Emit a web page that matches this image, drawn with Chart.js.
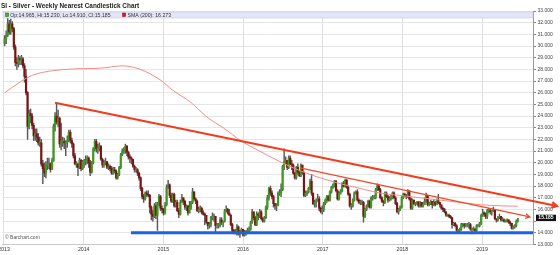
<!DOCTYPE html>
<html><head><meta charset="utf-8">
<script src="https://cdn.jsdelivr.net/npm/chart.js@4.4.1/dist/chart.umd.min.js"></script>
<style>html,body{margin:0;padding:0;background:#fff;overflow:hidden}canvas{display:block}</style>
</head><body>
<canvas id="c" width="560" height="255"></canvas>
<script>
// ---------- DATA (weekly, first week ending 2013-01-04) ----------
const firstWeek = [2013, 0, 4];
const opens = [
30.2,30.6,30.9,31.9,31.2,31.9,31.5,29.9,28.6,28.5,28.9,28.8,28.9,28.3,27.4,26.0,23.1,24.2,24.0,23.2,22.3,22.5,22.2,21.7,21.7,19.9,19.5,19.1,19.8,19.9,19.9,19.4,20.2,23.1,24.0,23.5,23.8,21.6,21.8,21.8,21.7,21.7,21.9,22.6,21.9,21.6,20.6,19.9,19.9,19.6,20.2,19.5,
20.1,20.1,20.2,20.4,20.0,19.2,20.0,21.2,21.8,21.2,21.2,21.4,20.3,19.8,20.0,20.1,19.6,19.7,19.5,19.1,19.4,19.3,18.7,19.0,19.6,20.7,21.0,21.1,21.4,20.9,20.5,20.4,20.3,19.7,19.4,19.4,19.1,18.7,17.8,17.1,16.9,17.4,17.3,17.2,16.2,15.6,15.4,16.3,15.5,16.4,17.1,16.1,
16.0,15.7,16.4,17.9,18.1,17.2,16.7,17.3,16.3,16.6,15.9,15.6,16.6,17.0,16.7,16.2,16.3,15.7,16.2,16.6,17.5,16.9,16.7,15.9,16.0,16.1,15.7,15.6,15.5,14.9,14.6,14.7,15.3,15.4,15.4,14.6,14.6,14.6,15.1,14.9,15.0,15.9,16.0,15.7,15.5,14.7,14.2,14.1,14.1,14.5,13.9,14.1,
14.3,13.8,13.9,14.0,14.2,14.3,14.9,15.8,15.3,14.7,15.6,15.5,15.8,15.2,15.0,15.3,16.2,17.0,17.8,17.4,17.1,16.5,16.3,16.4,17.4,17.4,17.7,19.7,20.1,20.2,19.6,20.4,19.9,19.8,19.1,18.7,19.6,19.2,18.9,19.8,19.2,17.2,17.4,17.5,17.8,18.4,17.4,16.5,16.6,16.7,16.9,16.1,15.8,
16.0,16.5,16.8,17.1,16.8,17.5,17.9,18.0,18.4,17.6,16.9,17.4,17.6,18.2,18.0,18.5,17.9,17.3,16.3,16.3,16.8,17.4,17.5,16.8,16.6,16.6,16.6,15.4,16.0,16.3,16.7,16.2,17.0,17.0,17.0,17.7,18.0,17.7,17.0,16.7,16.6,17.4,17.1,16.8,16.9,17.0,17.4,17.0,16.5,15.8,16.0,16.2,
17.0,17.3,17.2,17.1,17.6,16.9,16.1,16.8,16.5,16.5,16.6,16.3,16.6,16.3,16.4,16.7,17.2,16.4,16.5,16.7,16.4,16.6,16.4,16.8,16.6,16.4,16.1,16.0,15.8,15.5,15.5,15.4,15.3,14.7,14.8,14.6,14.2,14.2,14.3,14.7,14.7,14.6,14.6,14.7,14.7,14.3,14.3,14.3,14.2,14.6,14.6,14.8,
15.5,15.7,15.6,15.4,15.9,15.9,15.8,15.8,16.0,15.2,15.1,15.3,15.4,15.1,15.1,15.0,15.0,15.1,14.9,14.8,14.4,14.5,14.6,14.965];
const highs = [
30.9,31.3,32.4,32.2,32.3,32.1,31.6,30.1,29.0,29.2,29.1,29.2,29.0,28.5,28.0,26.1,24.5,24.6,24.2,23.4,22.9,22.9,22.5,22.2,22.0,20.2,20.0,20.1,20.4,20.4,20.0,20.4,23.3,24.3,25.1,24.5,23.9,23.4,22.2,22.1,21.9,22.3,22.8,22.8,22.1,21.7,20.8,20.1,19.9,20.4,20.3,20.2,
20.3,20.6,20.6,20.5,20.2,20.1,21.3,22.0,22.0,21.6,21.7,21.5,20.4,20.2,20.4,20.1,19.9,19.8,19.7,19.6,19.6,19.4,19.1,19.7,20.8,21.2,21.3,21.6,21.5,21.0,20.7,20.5,20.3,19.8,19.6,19.5,19.2,18.8,17.9,17.3,17.5,17.6,17.6,17.3,16.3,15.9,16.5,16.6,16.6,17.3,17.2,16.3,
16.1,16.6,18.1,18.5,18.2,17.4,17.4,17.4,16.8,16.8,16.1,16.8,17.3,17.0,16.8,16.4,16.3,16.7,16.7,17.8,17.5,17.0,16.8,16.2,16.3,16.2,15.9,15.7,15.5,14.9,14.9,15.4,15.7,15.6,15.4,14.8,14.8,15.3,15.3,15.0,16.0,16.3,16.1,16.0,15.6,14.8,14.3,14.3,14.7,14.6,14.2,14.4,
14.3,14.2,14.2,14.4,14.5,15.0,16.0,15.8,15.4,15.8,15.7,16.0,15.9,15.3,15.4,16.3,17.2,17.9,18.0,17.6,17.2,16.5,16.5,17.5,17.7,18.2,19.8,21.2,20.5,20.2,20.6,20.6,20.2,19.9,19.2,19.7,19.9,19.3,19.9,19.8,19.2,17.6,17.6,17.9,18.6,19.0,17.4,16.8,16.9,17.3,17.1,16.2,16.3,
16.6,16.9,17.2,17.2,17.6,18.0,18.2,18.5,18.5,17.7,17.5,17.7,18.3,18.4,18.6,18.6,18.0,17.4,16.5,16.9,17.5,17.6,17.7,16.9,16.8,16.8,16.7,16.1,16.4,16.8,16.8,17.1,17.2,17.2,17.8,18.2,18.1,17.8,17.1,16.8,17.5,17.5,17.2,17.1,17.2,17.5,17.5,17.1,16.6,16.1,16.3,17.1,
17.4,17.4,17.3,17.7,17.6,17.0,16.9,16.8,16.6,16.7,16.7,16.7,16.6,16.6,17.0,17.4,17.2,16.6,16.8,16.7,16.8,16.7,16.9,17.3,16.6,16.4,16.2,16.1,15.8,15.6,15.6,15.5,15.3,14.9,14.9,14.7,14.3,14.4,14.8,14.8,14.8,14.8,14.8,14.9,14.8,14.4,14.5,14.4,14.7,14.7,14.9,15.6,
16.0,15.8,15.7,16.0,16.1,16.0,15.9,16.2,16.0,15.2,15.4,15.6,15.4,15.3,15.2,15.1,15.2,15.1,15.0,14.8,14.6,14.7,15.1,15.23];
const lows = [
30.0,30.2,30.8,31.0,31.0,31.2,29.7,28.3,28.0,28.2,28.4,28.4,28.1,26.9,25.8,22.0,22.9,23.4,22.9,21.9,21.9,21.8,21.5,21.4,19.7,18.2,18.8,18.7,19.4,19.5,19.2,19.4,20.1,22.7,23.3,23.1,21.3,21.1,21.4,21.2,20.6,21.3,21.8,21.7,21.3,20.4,19.8,19.6,18.9,19.5,19.3,19.4,
19.6,19.8,19.9,19.6,18.9,19.1,19.9,21.0,20.9,20.8,21.0,20.2,19.6,19.6,19.8,19.5,19.4,19.3,19.0,19.0,19.1,18.6,18.6,18.9,19.5,20.6,20.8,20.8,20.6,20.3,20.0,19.9,19.6,19.2,19.2,18.9,18.5,17.6,16.9,16.6,16.8,17.1,17.1,15.7,15.1,15.0,15.3,15.2,14.2,16.3,15.9,15.7,
15.5,15.6,16.3,17.8,17.0,16.6,16.6,16.2,16.2,15.8,15.3,15.5,16.6,16.4,16.0,15.9,15.5,15.7,16.0,16.5,16.8,16.5,15.8,15.7,15.8,15.6,15.5,14.7,14.8,14.3,14.4,14.5,15.1,15.0,14.0,14.4,14.4,14.5,14.7,14.5,14.9,15.8,15.6,15.5,14.6,14.0,13.9,13.9,13.8,13.8,13.6,14.0,
13.7,13.7,13.8,13.9,14.0,14.2,14.8,15.1,14.6,14.6,15.1,15.3,15.1,14.9,14.9,15.2,16.0,16.8,17.2,16.9,16.2,16.0,15.9,16.3,17.2,17.1,17.6,19.4,19.9,19.4,19.5,19.8,19.4,19.0,18.6,18.6,19.0,18.8,18.8,19.0,17.1,17.1,17.2,17.4,17.7,17.2,16.4,16.2,16.2,16.7,15.9,15.7,15.6,
15.8,16.4,16.6,16.7,16.7,17.4,17.8,17.9,17.5,16.8,16.8,17.3,17.5,17.9,17.9,17.8,17.2,16.2,16.0,16.2,16.7,17.3,16.7,16.5,16.4,16.4,14.9,15.3,15.9,16.2,16.1,16.1,16.8,16.9,16.9,17.6,17.6,16.9,16.6,16.3,16.5,17.0,16.6,16.7,16.8,16.9,16.9,16.4,15.7,15.6,15.9,16.1,
16.9,17.1,16.9,17.0,16.8,16.0,16.0,16.4,16.3,16.4,16.2,16.2,16.2,16.2,16.4,16.6,16.3,16.3,16.4,16.1,16.3,16.3,16.4,16.5,16.2,16.0,15.8,15.7,15.4,15.4,15.3,15.2,14.4,14.6,14.5,14.1,14.0,14.1,14.2,14.5,14.4,14.5,14.5,14.4,14.2,13.9,14.2,14.1,14.1,14.5,14.5,14.7,
15.4,15.4,15.2,15.2,15.7,15.6,15.5,15.8,15.1,14.9,15.0,15.2,15.0,15.0,14.9,14.9,14.9,14.8,14.6,14.3,14.3,14.4,14.5,14.91];
const closes = [
30.6,30.9,31.9,31.2,31.9,31.5,29.9,28.6,28.5,28.9,28.8,28.9,28.3,27.4,26.0,23.1,24.2,24.0,23.2,22.3,22.5,22.2,21.7,21.7,19.9,19.5,19.1,19.8,19.9,19.9,19.4,20.2,23.1,24.0,23.5,23.8,21.6,21.8,21.8,21.7,21.7,21.9,22.6,21.9,21.6,20.6,19.9,19.9,19.6,20.2,19.5,20.1,
20.1,20.2,20.4,20.0,19.2,20.0,21.2,21.8,21.2,21.2,21.4,20.3,19.8,20.0,20.1,19.6,19.7,19.5,19.1,19.4,19.3,18.7,19.0,19.6,20.7,21.0,21.1,21.4,20.9,20.5,20.4,20.3,19.7,19.4,19.4,19.1,18.7,17.8,17.1,16.9,17.4,17.3,17.2,16.2,15.6,15.4,16.3,15.5,16.4,17.1,16.1,16.0,
15.7,16.4,17.9,18.1,17.2,16.7,17.3,16.3,16.6,15.9,15.6,16.6,17.0,16.7,16.2,16.3,15.7,16.2,16.6,17.5,16.9,16.7,15.9,16.0,16.1,15.7,15.6,15.5,14.9,14.6,14.7,15.3,15.4,15.4,14.6,14.6,14.6,15.1,14.9,15.0,15.9,16.0,15.7,15.5,14.7,14.2,14.1,14.1,14.5,13.9,14.1,14.3,
13.8,13.9,14.0,14.2,14.3,14.9,15.8,15.3,14.7,15.6,15.5,15.8,15.2,15.0,15.3,16.2,17.0,17.8,17.4,17.1,16.5,16.3,16.4,17.4,17.4,17.7,19.7,20.1,20.2,19.6,20.4,19.9,19.8,19.1,18.7,19.6,19.2,18.9,19.8,19.2,17.2,17.4,17.5,17.8,18.4,17.4,16.5,16.6,16.7,16.9,16.1,15.8,16.0,
16.5,16.8,17.1,16.8,17.5,17.9,18.0,18.4,17.6,16.9,17.4,17.6,18.2,18.0,18.5,17.9,17.3,16.3,16.3,16.8,17.4,17.5,16.8,16.6,16.6,16.6,15.4,16.0,16.3,16.7,16.2,17.0,17.0,17.0,17.7,18.0,17.7,17.0,16.7,16.6,17.4,17.1,16.8,16.9,17.0,17.4,17.0,16.5,15.8,16.0,16.2,17.0,
17.3,17.2,17.1,17.6,16.9,16.1,16.8,16.5,16.5,16.6,16.3,16.6,16.3,16.4,16.7,17.2,16.4,16.5,16.7,16.4,16.6,16.4,16.8,16.6,16.4,16.1,16.0,15.8,15.5,15.5,15.4,15.3,14.7,14.8,14.6,14.2,14.2,14.3,14.7,14.7,14.6,14.6,14.7,14.7,14.3,14.3,14.3,14.2,14.6,14.6,14.8,15.5,
15.7,15.6,15.4,15.9,15.9,15.8,15.8,16.0,15.2,15.1,15.3,15.4,15.1,15.1,15.0,15.0,15.1,14.9,14.8,14.4,14.5,14.6,14.97,15.185];

// SMA(200) (decimal year, price)
const smaDates  = [2013.01,2013.20,2013.36,2013.79,2014.21,2014.49,2014.71,2014.96,2015.12,2015.34,2015.55,2015.75,2015.99,2016.18,2016.46,2016.72,2016.97,2017.22,2017.47,2017.72,2017.97,2018.22,2018.47,2018.72,2018.98,2019.26,2019.45];
const smaValues = [26.0,26.9,27.5,28.0,28.1,28.3,28.0,27.1,26.2,25.2,23.9,23.0,21.8,21.1,20.1,19.3,18.7,18.2,17.8,17.4,17.2,17.0,16.8,16.6,16.4,16.3,16.27];

// drawn studies (decimal year, price)
const trendMainX = [2013.64, 2019.94], trendMainY = [25.14, 16.29];
const trendLowX  = [2016.715, 2019.60], trendLowY = [19.55, 15.35];
const supportX   = [2014.594, 2019.64], supportY  = [14.0, 14.0];

const yearTicks = [2013,2014,2015,2016,2017,2018,2019];
const priceMin = 13, priceMax = 33;
const title = 'SI - Silver - Weekly Nearest Candlestick Chart';
const legendQuote = 'Op:14.965, Hi:15.230, Lo:14.910, Cl:15.185';
const legendSma = 'SMA (200): 16.273';
const lastClose = 15.185;

// ---------- helpers ----------
function weekYear(i){
  const d = Date.UTC(firstWeek[0], firstWeek[1], firstWeek[2]) + i*7*86400000;
  const y = new Date(d).getUTCFullYear();
  const s = Date.UTC(y,0,1), e = Date.UTC(y+1,0,1);
  return y + (d - s)/(e - s);
}
const weeks = closes.map((c,i)=>weekYear(i));
const UP='#3f9a22', DOWN='#7d1414', WICK='#5a5a5a';
const FONT='"Liberation Sans", Arial, sans-serif';

const pts = (xs, ys) => xs.map((x,i)=>({x, y: ys[i]}));

const decor = {
  id:'decor',
  afterDatasetsDraw(chart){
    const {ctx} = chart;
    chart.data.datasets.forEach((ds,di)=>{
      if(!ds.arrow) return;
      const m = chart.getDatasetMeta(di).data;
      const p1 = m[m.length-2], p2 = m[m.length-1];
      const ang = Math.atan2(p2.y-p1.y, p2.x-p1.x);
      const L = ds.arrow;
      ctx.save();
      ctx.strokeStyle = ds.borderColor; ctx.lineWidth = ds.borderWidth;
      ctx.beginPath();
      ctx.moveTo(p2.x - L*Math.cos(ang-0.5), p2.y - L*Math.sin(ang-0.5));
      ctx.lineTo(p2.x, p2.y);
      ctx.lineTo(p2.x - L*Math.cos(ang+0.5), p2.y - L*Math.sin(ang+0.5));
      ctx.stroke();
      ctx.restore();
    });
  },
  afterDraw(chart){
    const {ctx, chartArea:a, scales:{y}} = chart;
    ctx.save();
    ctx.fillStyle='#222'; ctx.font='bold 6.4px '+FONT; ctx.textBaseline='alphabetic'; ctx.textAlign='left';
    ctx.fillText(title, 1, 7.8);
    ctx.fillStyle='#e4e5f7'; ctx.fillRect(3, 12, a.right-3, 6);
    ctx.strokeStyle='#c3c6e6'; ctx.lineWidth=0.6; ctx.strokeRect(3, 12, a.right-3, 6);
    ctx.fillStyle='#45b02a'; ctx.fillRect(5.5, 13, 3.2, 3.6);
    ctx.strokeStyle='#2b6a18'; ctx.lineWidth=0.5; ctx.strokeRect(5.5, 13, 3.2, 3.6);
    ctx.fillStyle='#d42020'; ctx.fillRect(122.5, 13, 3.2, 3.6);
    ctx.strokeStyle='#801010'; ctx.strokeRect(122.5, 13, 3.2, 3.6);
    ctx.fillStyle='#333'; ctx.font='5.2px '+FONT; ctx.textBaseline='middle';
    ctx.fillText(legendQuote, 10.2, 15.2);
    ctx.fillText(legendSma, 127.5, 15.2);
    ctx.fillStyle='#555'; ctx.font='5px '+FONT;
    ctx.fillText('\u00A9 Barchart.com', 5, 238);
    const py = y.getPixelForValue(lastClose);
    ctx.fillStyle='#111'; ctx.fillRect(536, py-4.2, 20, 6.4);
    ctx.fillStyle='#fff'; ctx.font='bold 5px '+FONT; ctx.textAlign='center';
    ctx.fillText(lastClose.toFixed(3), 546, py-1);
    ctx.restore();
  }
};

new Chart(document.getElementById('c'), {
  type:'bar',
  data:{
    datasets:[
      { type:'line', data: pts(trendMainX, trendMainY), borderColor:'#f23c1c', borderWidth:2.2, pointRadius:0, clip:false, arrow:6, order:0 },
      { type:'line', data: pts(trendLowX, trendLowY), borderColor:'#ef4a2a', borderWidth:1.3, pointRadius:0, clip:false, arrow:5, order:1 },
      { type:'line', data: pts(supportX, supportY), borderColor:'#1a62e6', borderWidth:3, pointRadius:0, order:2 },
      { type:'line', data: pts(smaDates, smaValues), borderColor:'#f28c8c', borderWidth:1, pointRadius:0, cubicInterpolationMode:'monotone', order:3 },
      { type:'bar', data: weeks.map((w,i)=>({x:w, y:[opens[i], closes[i]]})),
        backgroundColor: closes.map((c,i)=> c>=opens[i] ? UP : DOWN), barThickness:1.5, minBarLength:0.8, grouped:false, order:4 },
      { type:'bar', data: weeks.map((w,i)=>({x:w, y:[lows[i], highs[i]]})),
        backgroundColor: WICK, barThickness:0.8, grouped:false, order:5 }
    ]
  },
  options:{
    responsive:false, animation:false, events:[],
    layout:{ padding:{ top:11, left:2, right:0, bottom:0 } },
    plugins:{ legend:{display:false}, tooltip:{enabled:false}, title:{display:false} },
    scales:{
      x:{ type:'linear', position:'bottom', min:2012.975, max:2019.64, offset:false,
        afterBuildTicks(s){ s.ticks = yearTicks.map(v=>({value:v})); },
        afterFit(s){ s.height = 10.6; s.paddingLeft = 0; s.paddingRight = 0; },
        grid:{ color:'#dedede', lineWidth:1, drawTicks:false, offset:false },
        border:{ display:true, color:'#c8c8c8' },
        ticks:{ callback:v=>String(v), font:{family:FONT, size:5.2}, color:'#333', padding:2, maxRotation:0, autoSkip:false }
      },
      y:{ type:'linear', position:'right', min:priceMin, max:priceMax,
        afterFit(s){ s.width = 27; s.paddingTop = 0; s.paddingBottom = 0; },
        grid:{ color:'#e6e6e6', lineWidth:1, tickLength:3, tickColor:'#8a8a8a' },
        border:{ display:true, color:'#9a9a9a' },
        ticks:{ stepSize:1, font:{family:FONT, size:5}, color:'#444', padding:1.5,
          callback:v=> Math.abs(v-lastClose)<0.5 ? '' : v.toFixed(3) }
      }
    }
  },
  plugins:[decor]
});
</script>
</body></html>
